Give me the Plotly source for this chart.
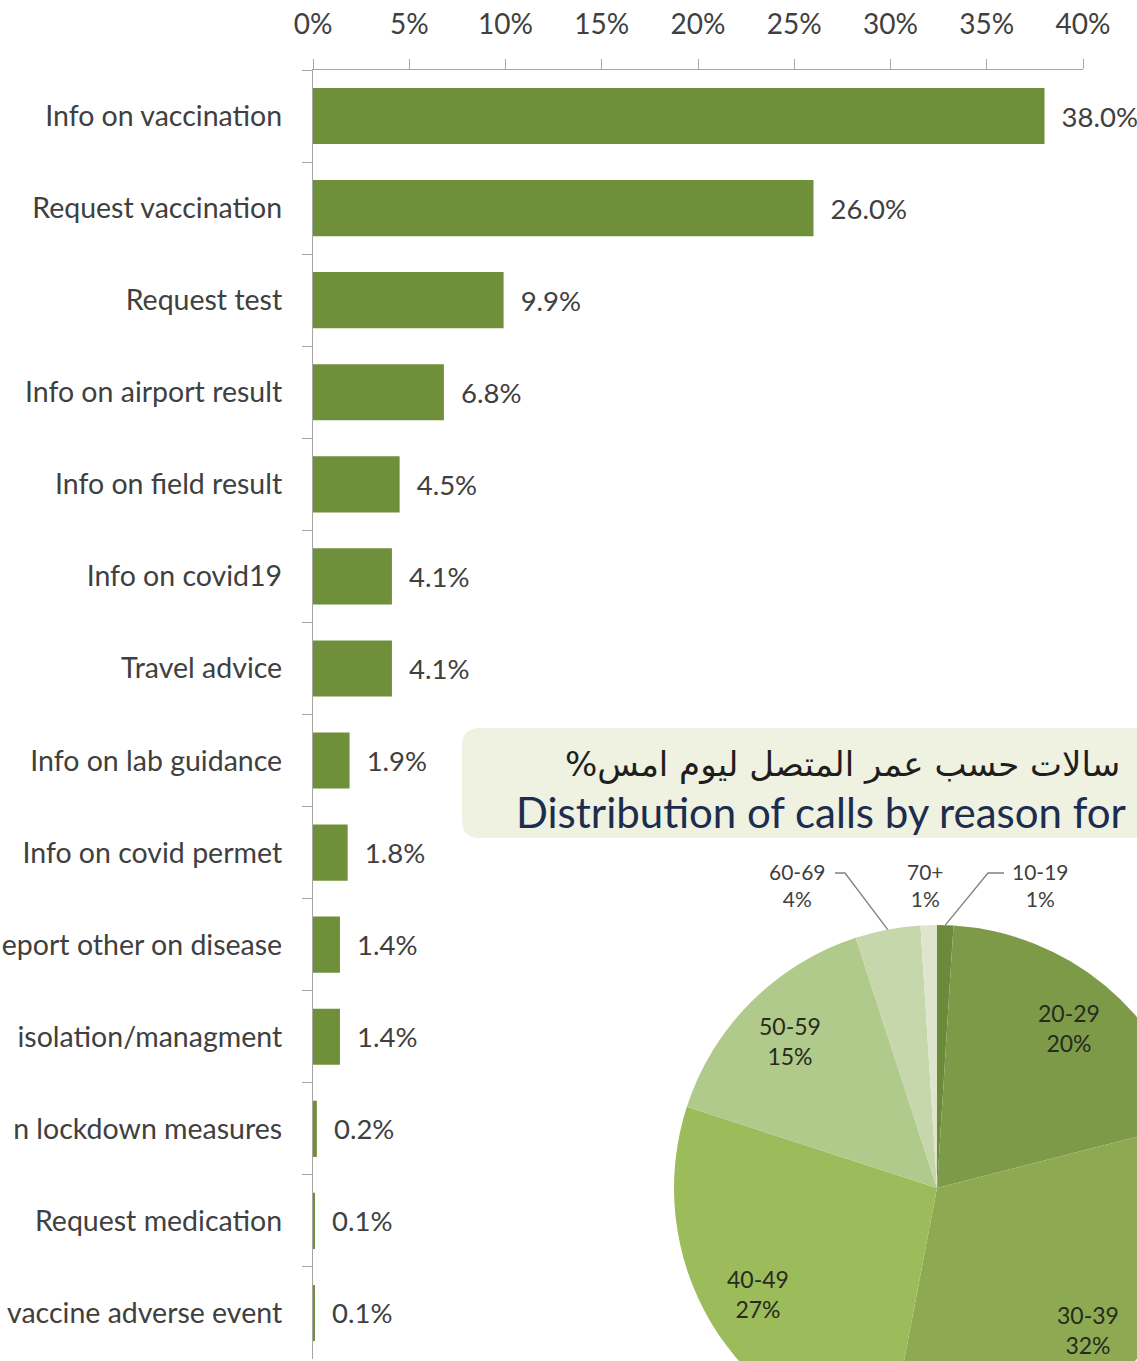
import plotly.graph_objects as go
import math

# ---------------- data ----------------
# category labels as visible in the (cropped) reference
categories = [
    "Info on vaccination", "Request vaccination", "Request test",
    "Info on airport result", "Info on field result", "Info on covid19",
    "Travel advice", "Info on lab guidance", "Info on covid permet",
    "eport other on disease", "isolation/managment",
    "n lockdown measures", "Request medication",
    "vaccine adverse event",
]
shares = [38.0, 26.0, 9.9, 6.8, 4.5, 4.1, 4.1, 1.9, 1.8, 1.4, 1.4, 0.2, 0.1, 0.1]

x_tick_vals = [0, 5, 10, 15, 20, 25, 30, 35, 40]
x_tick_text = ["0%", "5%", "10%", "15%", "20%", "25%", "30%", "35%", "40%"]

age_groups = ["10-19", "20-29", "30-39", "40-49", "50-59", "60-69", "70+"]
age_shares = [1, 20, 32, 27, 15, 4, 1]

title_ar = "سالات حسب عمر المتصل ليوم امس%"
title_en = "Distribution of calls by reason for"

# ---------------- layout constants ----------------
W, H = 1210, 1460          # figure is larger than the 1137x1361 window (reference is cropped)
ML, MT = 313, 70
PW, PH = W - ML, H - MT
FONT = "Lato, 'Open Sans', sans-serif"
BAR_COLOR = "#6F8F3A"
AXIS_COLOR = "#A6A6A6"
TXT = "#404040"
pie_colors = ["#6B8A3C", "#7D9A49", "#8DAA53", "#9CBB5B", "#B0CA8B", "#C6D7AB", "#DDE6CC"]


def px(x, y):
    return (x - ML) / PW, (H - y) / PH


fig = go.Figure()

fig.add_trace(go.Bar(
    x=shares, y=categories, orientation="h",
    marker=dict(color=BAR_COLOR, line=dict(width=0)),
    text=["\u00a0\u00a0" + f"{v:.1f}%" for v in shares],
    textposition="outside", cliponaxis=False, constraintext="none",
    textfont=dict(family=FONT, size=27.5, color=TXT),
    showlegend=False, hoverinfo="x+y",
))

# pie geometry (pixels)
cx, cy, R = 937, 1188, 263
x0p, _ = px(cx - R, 0)
x1p, _ = px(cx + R, 0)
_, y0p = px(0, cy + R)
_, y1p = px(0, cy - R)

fig.add_trace(go.Pie(
    labels=age_groups, values=age_shares, sort=False,
    direction="clockwise", rotation=0,
    marker=dict(colors=pie_colors, line=dict(width=0)),
    textinfo="none", showlegend=False,
    domain=dict(x=[x0p, x1p], y=[y0p, y1p]),
))

annotations = []
shapes = []

total = sum(age_shares)
cum = 0
outside_pos = {"60-69": (797, 885), "70+": (925, 885), "10-19": (1040, 885)}
leader = {"60-69": [(835, 873), (845, 873)], "10-19": [(1004, 873), (988, 873)]}
for lab, v in zip(age_groups, age_shares):
    mid = math.radians((cum + v / 2) / total * 360)
    cum += v
    if lab in outside_pos:
        tx, ty = outside_pos[lab]
        xp, yp = px(tx, ty)
        annotations.append(dict(x=xp, y=yp, xref="paper", yref="paper",
                                text=f"{lab}<br>{v}%", showarrow=False,
                                font=dict(family=FONT, size=21, color=TXT),
                                xanchor="center", yanchor="middle"))
        if lab in leader:
            ex, ey = cx + R * math.sin(mid), cy - R * math.cos(mid)
            pts = leader[lab] + [(ex, ey)]
            path = "M " + " L ".join(f"{px(a, b)[0]},{px(a, b)[1]}" for a, b in pts)
            shapes.append(dict(type="path", xref="paper", yref="paper", path=path,
                               line=dict(color="#808080", width=1.3)))
    else:
        tx, ty = cx + 0.79 * R * math.sin(mid), cy - 0.79 * R * math.cos(mid)
        xp, yp = px(tx, ty)
        annotations.append(dict(x=xp, y=yp, xref="paper", yref="paper",
                                text=f"{lab}<br>{v}%", showarrow=False,
                                font=dict(family=FONT, size=23, color="#262B1E"),
                                xanchor="center", yanchor="middle"))

# title box (rounded left corners)
bx0, by0, by1, rr = 462, 728, 838, 18
pts_box = [
    ("M", (W + 5, by0)), ("L", (bx0 + rr, by0)), ("Q", (bx0, by0), (bx0, by0 + rr)),
    ("L", (bx0, by1 - rr)), ("Q", (bx0, by1), (bx0 + rr, by1)), ("L", (W + 5, by1)),
]
path = ""
for cmd, *ps in pts_box:
    path += cmd + " " + " ".join(f"{px(a, b)[0]},{px(a, b)[1]}" for a, b in ps) + " "
path += "Z"
shapes.insert(0, dict(type="path", xref="paper", yref="paper", path=path,
                      fillcolor="#EFF1E1", line=dict(width=0), layer="below"))

xa, ya = px(563, 764)
annotations.append(dict(x=xa, y=ya, xref="paper", yref="paper",
                        text=title_ar + "\u200f", showarrow=False,
                        font=dict(family="'DejaVu Sans', sans-serif", size=34, color="#1E1E1E"),
                        xanchor="left", yanchor="middle"))
xa, ya = px(514, 812)
annotations.append(dict(x=xa, y=ya, xref="paper", yref="paper",
                        text=title_en, showarrow=False,
                        font=dict(family=FONT, size=42, color="#1C2D50"),
                        xanchor="left", yanchor="middle"))

fig.update_layout(
    template="none",
    width=W, height=H,
    margin=dict(l=ML, r=0, t=MT, b=0, pad=0),
    paper_bgcolor="white", plot_bgcolor="white",
    bargap=0.39,
    font=dict(family=FONT, color=TXT),
    xaxis=dict(
        side="top", domain=[0, 770 / PW], range=[0, 40],
        tickvals=x_tick_vals, ticktext=x_tick_text,
        showgrid=False, zeroline=False, showline=True,
        linecolor=AXIS_COLOR, linewidth=1.3,
        ticks="outside", ticklen=10, tickcolor=AXIS_COLOR, tickwidth=1.3,
        tickfont=dict(family=FONT, size=28, color=TXT),
        ticklabelstandoff=14, automargin=False, fixedrange=True,
    ),
    yaxis=dict(
        domain=[px(0, 1359)[1], 1], autorange="reversed",
        showgrid=False, zeroline=False, showline=True,
        linecolor=AXIS_COLOR, linewidth=1.3,
        ticks="outside", tickson="boundaries", ticklen=10,
        tickcolor=AXIS_COLOR, tickwidth=1.3,
        tickfont=dict(family=FONT, size=28.5, color=TXT),
        ticklabelstandoff=24, automargin=False, fixedrange=True,
    ),
    annotations=annotations,
    shapes=shapes,
)

fig.write_html(
    "out.html",
    config={"displayModeBar": False},
    post_script="document.body.style.margin='0';document.body.style.overflow='hidden';"
                "document.documentElement.style.overflow='hidden';",
)
